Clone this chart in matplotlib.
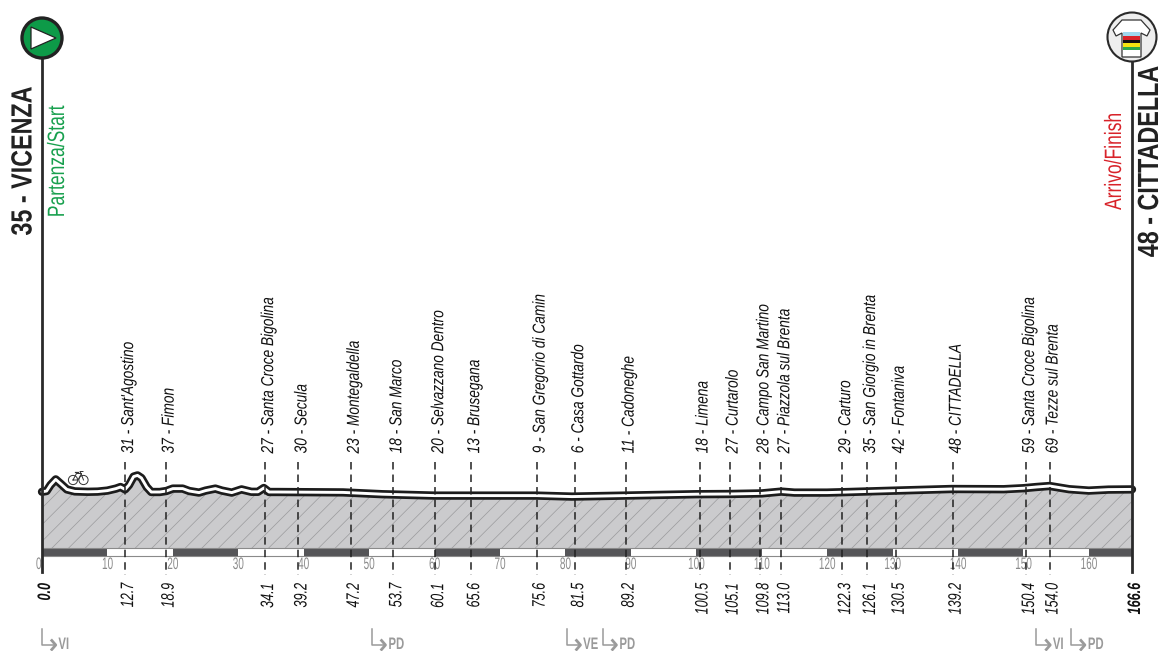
import matplotlib
matplotlib.use("Agg")
import matplotlib.pyplot as plt
from matplotlib.patches import Circle, Polygon
from matplotlib.path import Path
from matplotlib.patheffects import AbstractPathEffect

# ---- Data ------------------------------------------------------------------
profile_km = [0, 0.7, 1.3, 2.1, 2.9, 3.8, 5, 7, 8.5, 10, 11.3, 12, 12.7, 13.3, 14, 14.6, 15.2,
              16, 16.7, 18, 19, 20, 21.5, 22.5, 24, 25, 26.5, 27.5, 29, 30.5, 32, 33, 33.9,
              34.7, 36, 46, 52, 60, 66, 75.6, 81, 89, 100, 105, 110, 113, 115, 120, 122.3,
              130.5, 139, 147, 150, 152, 154, 157, 160, 163, 166.6]
profile_alt = [36, 40, 70, 98, 75, 48, 38, 36, 37, 42, 52, 60, 48, 70, 112, 118, 105,
               60, 35, 35, 40, 52, 52, 40, 32, 42, 52, 42, 32, 48, 36, 36, 55,
               35, 35, 33, 24, 17, 17, 17, 12, 17, 24, 25, 28, 37, 32, 32, 34,
               42, 50, 49, 54, 60, 65, 49, 42, 47, 48]

way_km = [12.7, 18.9, 34.1, 39.2, 47.2, 53.7, 60.1, 65.6, 75.6, 81.5, 89.2, 100.5, 105.1,
          109.8, 113.0, 122.3, 126.1, 130.5, 139.2, 150.4, 154.0]
way_alt = [31, 37, 27, 30, 23, 18, 20, 13, 9, 6, 11, 18, 27, 28, 27, 29, 35, 42, 48, 59, 69]
way_names = ["Sant'Agostino", "Fimon", "Santa Croce Bigolina", "Secula", "Montegaldella",
             "San Marco", "Selvazzano Dentro", "Brusegana", "San Gregorio di Camin",
             "Casa Gottardo", "Cadoneghe", "Limena", "Curtarolo", "Campo San Martino",
             "Piazzola sul Brenta", "Carturo", "San Giorgio in Brenta", "Fontaniva",
             "CITTADELLA", "Santa Croce Bigolina", "Tezze sul Brenta"]

km_ticks = list(range(0, 170, 10))
total_km = 166.6

prov_km = [0, 50.4, 80.2, 85.7, 152.0, 157.3]
prov_names = ["VI", "PD", "VE", "PD", "VI", "PD"]

# ---- Layout (reference pixels) ---------------------------------------------
W, H = 1162, 651
X0, X1 = 42, 1132
PX_PER_KM = (X1 - X0) / total_km
PX_PER_M = 0.2
Y_ZERO = 499          # pixel row of 0 m
Y_BASE = 548          # bottom of the hatched area
FONT = "Liberation Sans"
TEXT_SHIFT = 3.5 / PX_PER_KM  # rotated labels sit a little right of their dashed line


class Squeeze(AbstractPathEffect):
    """Condense text along its baseline, no condensed font is installed."""

    def __init__(self, sx, anchor="start"):
        super().__init__()
        self.sx = sx
        self.anchor = anchor

    def draw_path(self, renderer, gc, tpath, affine, rgbFace=None):
        box = tpath.get_extents()
        c = {"start": box.x0, "center": (box.x0 + box.x1) / 2, "end": box.x1}[self.anchor]
        verts = tpath.vertices.copy()
        verts[:, 0] = c + (verts[:, 0] - c) * self.sx
        renderer.draw_path(gc, Path(verts, tpath.codes), affine, rgbFace)


fig = plt.figure(figsize=(W / 100, H / 100), dpi=100)
plt.rcParams["hatch.linewidth"] = 0.5
ax = fig.add_axes([0, 0, 1, 1])
ax.set_xlim(-X0 / PX_PER_KM, (W - X0) / PX_PER_KM)
ax.set_ylim((Y_ZERO - H) / PX_PER_M, Y_ZERO / PX_PER_M)
ax.axis("off")
trans = ax.get_xaxis_transform()


def fy(p):
    """pixel row -> axes fraction"""
    return 1 - p / H


def kx(p):
    """pixel column -> km"""
    return (p - X0) / PX_PER_KM


def label(x, y, s, sx, anchor, **kw):
    t = ax.text(x, y, s, transform=trans, family=FONT, **kw)
    t.set_path_effects([Squeeze(sx, anchor)])
    return t


base_alt = (Y_ZERO - Y_BASE) / PX_PER_M

# ---- Profile ---------------------------------------------------------------
ax.fill_between(profile_km, profile_alt, base_alt, facecolor="#cbcbcd", edgecolor="#9a9a9c",
                hatch="//", linewidth=0, zorder=1)
ax.plot(profile_km, profile_alt, color="#1c1c1c", lw=6, solid_joinstyle="round",
        solid_capstyle="round", zorder=4)
ax.plot(profile_km, profile_alt, color="white", lw=2.1, solid_joinstyle="round",
        solid_capstyle="round", zorder=5)

# ---- Km ruler --------------------------------------------------------------
for k in km_ticks:
    end = min(k + 10, total_km)
    col = "#555558" if (k // 10) % 2 == 0 else "white"
    ax.fill_between([k, end], fy(555.5), fy(548), transform=trans, facecolor=col,
                    edgecolor="none", zorder=2)
    label(k - (0.5 if k == 0 else 0), fy(564.5), str(k), 0.6, "center", ha="center", va="center",
          fontsize=12, color="#8a8a8a", zorder=3)
ax.plot([0, total_km], [fy(548), fy(548)], transform=trans, color="#8a8a8a", lw=0.8, zorder=3)
ax.plot([0, total_km], [fy(555.5), fy(555.5)], transform=trans, color="#8a8a8a", lw=0.8, zorder=3)

# ---- Waypoints -------------------------------------------------------------
for k, alt, name in zip(way_km, way_alt, way_names):
    ax.plot([k, k], [fy(462), fy(575)], transform=trans, color="#222222", lw=1.1,
            dashes=(4.9, 3.3), zorder=6)
    label(k + TEXT_SHIFT, fy(453.5), f"{alt} - {name}", 0.79, "start", rotation=90, ha="center",
          va="bottom", style="italic", fontsize=12.5, color="#111111")
    label(k + TEXT_SHIFT, fy(583), f"{k:.1f}", 0.7, "end", rotation=90, ha="center", va="top",
          style="italic", fontsize=13, color="#111111")

for k, txt in ((0, "0.0"), (total_km, f"{total_km}")):
    label(k + TEXT_SHIFT, fy(583), txt, 0.7, "end", rotation=90, ha="center", va="top",
          style="italic", weight="bold", fontsize=13, color="#111111")

# ---- Start / finish poles --------------------------------------------------
for k in (0, total_km):
    ax.plot([k, k], [fy(572), fy(50)], transform=trans, color="#2a2a2a", lw=2, zorder=7)

label(kx(23.5), fy(161), "35 - VICENZA", 0.8, "center", rotation=90, ha="center", va="center",
      weight="bold", fontsize=21, color="#222222")
label(kx(58), fy(161.5), "Partenza/Start", 0.74, "center", rotation=90, ha="center", va="center",
      fontsize=17, color="#18a04e")
label(kx(1150), fy(161.5), "48 - CITTADELLA", 0.8, "center", rotation=90, ha="center", va="center",
      weight="bold", fontsize=21, color="#222222")
label(kx(1115), fy(161), "Arrivo/Finish", 0.74, "center", rotation=90, ha="center", va="center",
      fontsize=17, color="#d8232a")

# ---- Province changes ------------------------------------------------------
for k, name in zip(prov_km, prov_names):
    gray = "#9a9a9a"
    ax.plot([k, k, k + 2.0], [fy(629), fy(645), fy(645)], transform=trans, color=gray, lw=1.1)
    ax.plot([k + 1.5, k + 2.1, k + 1.5], [fy(640.5), fy(645), fy(649.5)], transform=trans,
            color=gray, lw=2)
    label(k + 2.5, fy(644.5), name, 0.68, "start", ha="left", va="center",
          weight="bold", fontsize=12, color=gray)

# ---- Icons in pixel coordinates --------------------------------------------
icons = fig.add_axes([0, 0, 1, 1], facecolor="none")
icons.set_xlim(0, W)
icons.set_ylim(H, 0)
icons.axis("off")

icons.add_patch(Circle((42, 38), 20, facecolor="#0d9a48", edgecolor="#222222", lw=2.4))
icons.add_patch(Polygon([(31, 27), (31, 49), (56, 38)], facecolor="white", edgecolor="#222222", lw=0.9))

icons.add_patch(Circle((1132, 37), 24.5, facecolor="#eeeeee", edgecolor="#2a2a2a", lw=1.5))
icons.add_patch(Polygon([(1122, 20), (1141, 20), (1150, 30), (1147, 36), (1141, 33), (1141, 57),
                         (1122, 57), (1122, 33), (1116, 36), (1113, 30)],
                        facecolor="white", edgecolor="#333333", lw=0.9))
stripes = [("#9fd8ee", 32, 36), ("#d8232a", 36, 40), ("#111111", 40, 43),
           ("#f4e411", 43, 47), ("#2da84a", 47, 50)]
for col, y0, y1 in stripes:
    icons.fill_between([1123, 1140], y0, y1, color=col, lw=0)

for cx in (73, 83.5):
    icons.add_patch(Circle((cx, 480), 4.6, facecolor="none", edgecolor="#333333", lw=0.7))
icons.plot([73, 76.5, 81.5, 78, 73], [480, 473.5, 473.5, 480, 480], color="#333333", lw=0.7)
icons.plot([83.5, 81, 80, 83], [480, 473.5, 471.5, 471.5], color="#333333", lw=0.7)
icons.plot([75, 77.5], [471.5, 471.5], color="#333333", lw=0.9)

fig.savefig("out.png", dpi=100)
